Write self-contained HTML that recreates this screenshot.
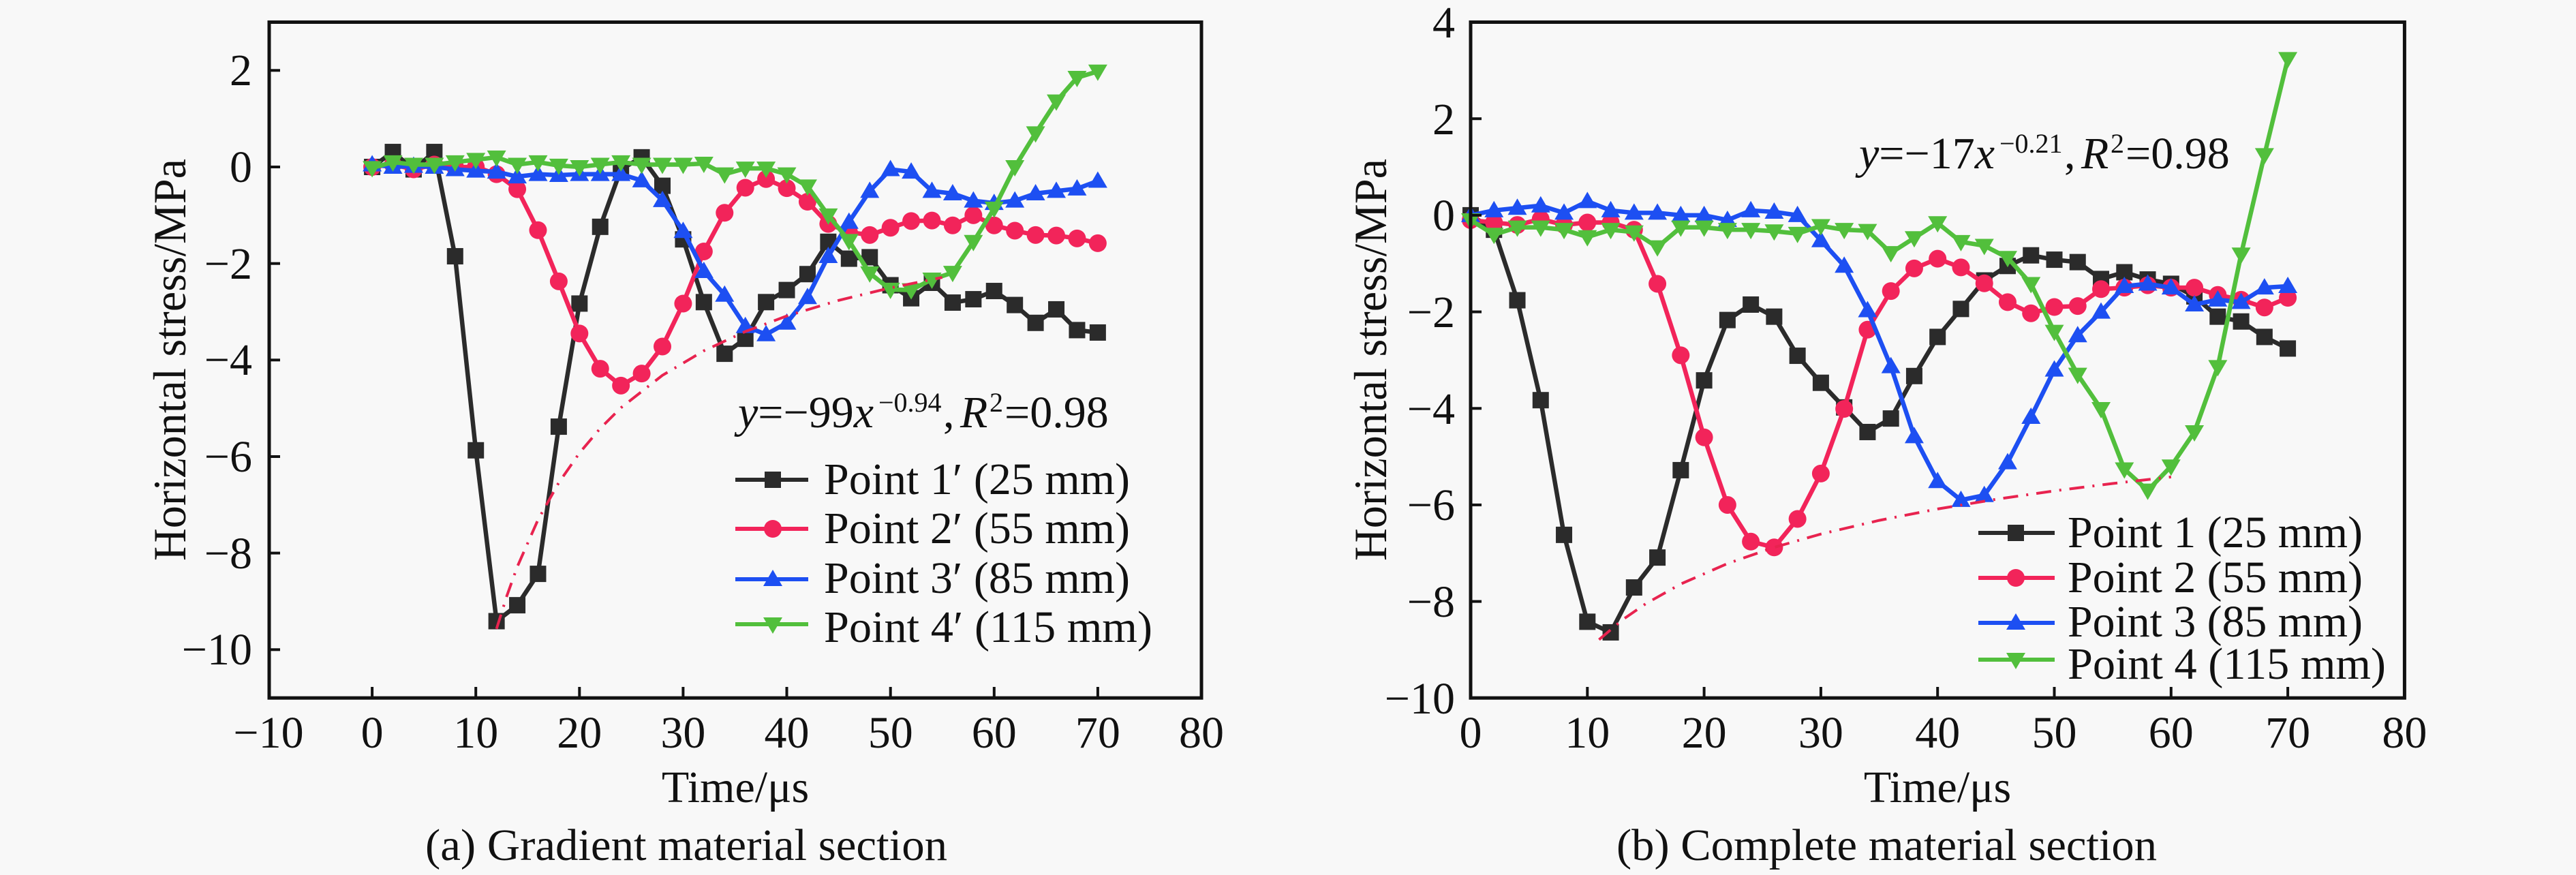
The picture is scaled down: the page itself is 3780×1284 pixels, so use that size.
<!DOCTYPE html>
<html>
<head>
<meta charset="utf-8">
<style>
  html,body{margin:0;padding:0;background:#f8f8f8;}
  svg{display:block;}
  text{fill:#111;font-family:"Liberation Serif","Times New Roman","DejaVu Serif",serif;}
</style>
</head>
<body>
<svg width="3780" height="1284" viewBox="0 0 3780 1284" xmlns="http://www.w3.org/2000/svg" font-family="Liberation Serif, serif">
<rect x="0" y="0" width="3780" height="1284" fill="#f8f8f8"/>
<defs>
  <marker id="mLsq" markerUnits="userSpaceOnUse" viewBox="-3 -3 6 6" markerWidth="6" markerHeight="6" refX="0" refY="0" orient="0">
    <rect x="-0.7889" y="-0.1694" width="1.5778" height="0.3388" fill="#2b2b2b"/>
  </marker>
  <marker id="mLci" markerUnits="userSpaceOnUse" viewBox="-3 -3 6 6" markerWidth="6" markerHeight="6" refX="0" refY="0" orient="0">
    <ellipse cx="0" cy="0" rx="0.8547" ry="0.1835" fill="#f2245a"/>
  </marker>
  <marker id="mLup" markerUnits="userSpaceOnUse" viewBox="-3 -3 6 6" markerWidth="6" markerHeight="6" refX="0" refY="0" orient="0">
    <polygon points="0,0.1977 -0.9204,-0.1412 0.9204,-0.1412" fill="#1d4ff2"/>
  </marker>
  <marker id="mLdn" markerUnits="userSpaceOnUse" viewBox="-3 -3 6 6" markerWidth="6" markerHeight="6" refX="0" refY="0" orient="0">
    <polygon points="0,-0.1977 -0.9204,0.1412 0.9204,0.1412" fill="#52bf3c"/>
  </marker>
  <marker id="mRsq" markerUnits="userSpaceOnUse" viewBox="-3 -3 6 6" markerWidth="6" markerHeight="6" refX="0" refY="0" orient="0">
    <rect x="-0.7005" y="-0.1694" width="1.401" height="0.3388" fill="#2b2b2b"/>
  </marker>
  <marker id="mRci" markerUnits="userSpaceOnUse" viewBox="-3 -3 6 6" markerWidth="6" markerHeight="6" refX="0" refY="0" orient="0">
    <ellipse cx="0" cy="0" rx="0.7589" ry="0.1835" fill="#f2245a"/>
  </marker>
  <marker id="mRup" markerUnits="userSpaceOnUse" viewBox="-3 -3 6 6" markerWidth="6" markerHeight="6" refX="0" refY="0" orient="0">
    <polygon points="0,0.1977 -0.8173,-0.1412 0.8173,-0.1412" fill="#1d4ff2"/>
  </marker>
  <marker id="mRdn" markerUnits="userSpaceOnUse" viewBox="-3 -3 6 6" markerWidth="6" markerHeight="6" refX="0" refY="0" orient="0">
    <polygon points="0,-0.1977 -0.8173,0.1412 0.8173,0.1412" fill="#52bf3c"/>
  </marker>
</defs>

<!-- ================= LEFT PANEL ================= -->
<g transform="matrix(15.211 0 0 -70.83 546.1 245)" fill="none" stroke-linejoin="round">
  <polyline vector-effect="non-scaling-stroke" stroke="#2b2b2b" stroke-width="6.5" marker-start="url(#mLsq)" marker-mid="url(#mLsq)" marker-end="url(#mLsq)"
    points="0,0 2,0.31 4,-0.05 6,0.31 8,-1.85 10,-5.87 12,-9.41 14,-9.08 16,-8.43 18,-5.38 20,-2.83 22,-1.24 24,-0.05 26,0.2 28,-0.39 30,-1.5 32,-2.8 34,-3.87 36,-3.56 38,-2.8 40,-2.55 42,-2.22 44,-1.55 46,-1.9 48,-1.87 50,-2.45 52,-2.72 54,-2.4 56,-2.81 58,-2.74 60,-2.57 62,-2.86 64,-3.23 66,-2.95 68,-3.38 70,-3.43"/>
  <polyline vector-effect="non-scaling-stroke" stroke="#f2245a" stroke-width="6.5" marker-start="url(#mLci)" marker-mid="url(#mLci)" marker-end="url(#mLci)"
    points="0,0 2,0.05 4,-0.05 6,0.05 8,0 10,0 12,-0.15 14,-0.46 16,-1.31 18,-2.37 20,-3.45 22,-4.18 24,-4.53 26,-4.28 28,-3.72 30,-2.83 32,-1.75 34,-0.95 36,-0.43 38,-0.25 40,-0.44 42,-0.72 44,-1.18 46,-1.35 48,-1.41 50,-1.26 52,-1.12 54,-1.11 56,-1.21 58,-1.0 60,-1.21 62,-1.32 64,-1.41 66,-1.42 68,-1.48 70,-1.58"/>
  <polyline vector-effect="non-scaling-stroke" stroke="#1d4ff2" stroke-width="6.5" marker-start="url(#mLup)" marker-mid="url(#mLup)" marker-end="url(#mLup)"
    points="0,0.05 2,0 4,0.02 6,0 8,-0.05 10,-0.08 12,-0.1 14,-0.2 16,-0.15 18,-0.17 20,-0.15 22,-0.15 24,-0.15 26,-0.28 28,-0.69 30,-1.33 32,-2.16 34,-2.65 36,-3.3 38,-3.47 40,-3.23 42,-2.7 44,-1.85 46,-1.14 48,-0.5 50,-0.05 52,-0.1 54,-0.5 56,-0.55 58,-0.7 60,-0.75 62,-0.7 64,-0.55 66,-0.5 68,-0.45 70,-0.29"/>
  <polyline vector-effect="non-scaling-stroke" stroke="#52bf3c" stroke-width="6.5" marker-start="url(#mLdn)" marker-mid="url(#mLdn)" marker-end="url(#mLdn)"
    points="0,-0.02 2,0.1 4,0.05 6,0.05 8,0.1 10,0.15 12,0.2 14,0.05 16,0.1 18,0.03 20,0 22,0.05 24,0.1 26,0.05 28,0.05 30,0.05 32,0.07 34,-0.15 36,-0.03 38,-0.03 40,-0.15 42,-0.4 44,-1.0 46,-1.53 48,-2.2 50,-2.54 52,-2.55 54,-2.33 56,-2.19 58,-1.55 60,-0.86 62,0 64,0.7 66,1.36 68,1.85 70,1.98"/>
</g>
<polyline fill="none" stroke="#e8234f" stroke-width="4" stroke-dasharray="22 12 3 12"
  points="728.6,922.8 743.8,874.2 759,831.8 789.5,762.7 819.9,708.4 850.3,664.7 880.7,628.7 911.1,598.4 972,550.8 1032.8,514.8 1093.7,486.5 1154.5,463.7 1230.6,440.8 1306.6,422.4 1382.7,407.1"/>

<rect x="395" y="32.5" width="1368" height="991.7" fill="none" stroke="#111" stroke-width="5"/>
<g stroke="#111" stroke-width="4">
  <line x1="395" y1="103.3" x2="411" y2="103.3"/>
  <line x1="395" y1="245" x2="411" y2="245"/>
  <line x1="395" y1="386.7" x2="411" y2="386.7"/>
  <line x1="395" y1="528.3" x2="411" y2="528.3"/>
  <line x1="395" y1="670" x2="411" y2="670"/>
  <line x1="395" y1="811.6" x2="411" y2="811.6"/>
  <line x1="395" y1="953.3" x2="411" y2="953.3"/>
  <line x1="546.1" y1="1024" x2="546.1" y2="1008"/>
  <line x1="698.2" y1="1024" x2="698.2" y2="1008"/>
  <line x1="850.3" y1="1024" x2="850.3" y2="1008"/>
  <line x1="1002.4" y1="1024" x2="1002.4" y2="1008"/>
  <line x1="1154.5" y1="1024" x2="1154.5" y2="1008"/>
  <line x1="1306.7" y1="1024" x2="1306.7" y2="1008"/>
  <line x1="1458.8" y1="1024" x2="1458.8" y2="1008"/>
  <line x1="1610.9" y1="1024" x2="1610.9" y2="1008"/>
</g>
<g font-size="66" text-anchor="end">
  <text x="370" y="125">2</text>
  <text x="370" y="267">0</text>
  <text x="370" y="409">−2</text>
  <text x="370" y="550">−4</text>
  <text x="370" y="692">−6</text>
  <text x="370" y="834">−8</text>
  <text x="370" y="975">−10</text>
</g>
<g font-size="66" text-anchor="middle">
  <text x="394" y="1097">−10</text>
  <text x="546.1" y="1097">0</text>
  <text x="698.2" y="1097">10</text>
  <text x="850.3" y="1097">20</text>
  <text x="1002.4" y="1097">30</text>
  <text x="1154.5" y="1097">40</text>
  <text x="1306.7" y="1097">50</text>
  <text x="1458.8" y="1097">60</text>
  <text x="1610.9" y="1097">70</text>
  <text x="1763" y="1097">80</text>
  <text x="1079" y="1177">Time/μs</text>
</g>
<text transform="translate(272,528) rotate(-90)" font-size="68" text-anchor="middle" textLength="590" lengthAdjust="spacingAndGlyphs">Horizontal stress/MPa</text>
<text x="624" y="1262" font-size="66" textLength="766" lengthAdjust="spacingAndGlyphs">(a) Gradient material section</text>

<text x="1083" y="627" font-size="66"><tspan font-style="italic">y</tspan>=−99<tspan font-style="italic">x</tspan></text>
<text x="1289" y="604" font-size="40">−0.94</text>
<text x="1384" y="627" font-size="66">,</text>
<text x="1409" y="627" font-size="66" font-style="italic">R</text>
<text x="1452" y="604" font-size="40">2</text>
<text x="1474" y="627" font-size="66">=0.98</text>

<g stroke-width="6">
  <line x1="1079" y1="704" x2="1186" y2="704" stroke="#2b2b2b"/>
  <line x1="1079" y1="776" x2="1186" y2="776" stroke="#f2245a"/>
  <line x1="1079" y1="850" x2="1186" y2="850" stroke="#1d4ff2"/>
  <line x1="1079" y1="916" x2="1186" y2="916" stroke="#52bf3c"/>
</g>
<rect x="1122" y="692" width="24" height="24" fill="#2b2b2b"/>
<circle cx="1134" cy="776" r="13" fill="#f2245a"/>
<polygon points="1134,836 1120,860 1148,860" fill="#1d4ff2"/>
<polygon points="1134,930 1120,906 1148,906" fill="#52bf3c"/>
<g font-size="66">
  <text x="1209" y="725" textLength="449" lengthAdjust="spacingAndGlyphs">Point 1′ (25 mm)</text>
  <text x="1209" y="797" textLength="449" lengthAdjust="spacingAndGlyphs">Point 2′ (55 mm)</text>
  <text x="1209" y="870" textLength="449" lengthAdjust="spacingAndGlyphs">Point 3′ (85 mm)</text>
  <text x="1209" y="942" textLength="482" lengthAdjust="spacingAndGlyphs">Point 4′ (115 mm)</text>
</g>

<!-- ================= RIGHT PANEL ================= -->
<g transform="matrix(17.13 0 0 -70.84 2158 315.9)" fill="none" stroke-linejoin="round">
  <polyline vector-effect="non-scaling-stroke" stroke="#2b2b2b" stroke-width="6.5" marker-start="url(#mRsq)" marker-mid="url(#mRsq)" marker-end="url(#mRsq)"
    points="0,0 2,-0.3 4,-1.76 6,-3.83 8,-6.62 10,-8.42 12,-8.64 14,-7.71 16,-7.09 18,-5.28 20,-3.42 22,-2.17 24,-1.85 26,-2.1 28,-2.91 30,-3.47 32,-3.98 34,-4.49 36,-4.21 38,-3.33 40,-2.52 42,-1.94 44,-1.35 46,-1.05 48,-0.83 50,-0.92 52,-0.97 54,-1.32 56,-1.18 58,-1.33 60,-1.42 62,-1.68 64,-2.1 66,-2.2 68,-2.52 70,-2.76"/>
  <polyline vector-effect="non-scaling-stroke" stroke="#f2245a" stroke-width="6.5" marker-start="url(#mRci)" marker-mid="url(#mRci)" marker-end="url(#mRci)"
    points="0,-0.1 2,-0.15 4,-0.2 6,-0.08 8,-0.2 10,-0.15 12,-0.15 14,-0.3 16,-1.42 18,-2.9 20,-4.6 22,-6.0 24,-6.76 26,-6.88 28,-6.29 30,-5.35 32,-4.01 34,-2.37 36,-1.57 38,-1.1 40,-0.9 42,-1.08 44,-1.41 46,-1.8 48,-2.03 50,-1.9 52,-1.88 54,-1.53 56,-1.5 58,-1.45 60,-1.5 62,-1.5 64,-1.65 66,-1.75 68,-1.91 70,-1.71"/>
  <polyline vector-effect="non-scaling-stroke" stroke="#1d4ff2" stroke-width="6.5" marker-start="url(#mRup)" marker-mid="url(#mRup)" marker-end="url(#mRup)"
    points="0,0 2,0.1 4,0.15 6,0.2 8,0.05 10,0.29 12,0.1 14,0.05 16,0.05 18,0 20,0 22,-0.1 24,0.1 26,0.07 28,0 30,-0.52 32,-1.05 34,-1.97 36,-3.13 38,-4.58 40,-5.51 42,-5.9 44,-5.8 46,-5.12 48,-4.18 50,-3.2 52,-2.49 54,-2.0 56,-1.47 58,-1.42 60,-1.5 62,-1.85 64,-1.75 66,-1.8 68,-1.5 70,-1.47"/>
  <polyline vector-effect="non-scaling-stroke" stroke="#52bf3c" stroke-width="6.5" marker-start="url(#mRdn)" marker-mid="url(#mRdn)" marker-end="url(#mRdn)"
    points="0,-0.1 2,-0.4 4,-0.25 6,-0.25 8,-0.3 10,-0.45 12,-0.3 14,-0.35 16,-0.66 18,-0.25 20,-0.25 22,-0.3 24,-0.3 26,-0.33 28,-0.38 30,-0.22 32,-0.3 34,-0.32 36,-0.78 38,-0.47 40,-0.16 42,-0.55 44,-0.63 46,-0.88 48,-1.42 50,-2.41 52,-3.3 54,-4.01 56,-5.26 58,-5.7 60,-5.2 62,-4.49 64,-3.14 66,-0.81 68,1.25 70,3.24"/>
</g>
<polyline fill="none" stroke="#e8234f" stroke-width="4" stroke-dasharray="22 12 3 12"
  points="2346.4,938.6 2380.7,909.6 2415,885.9 2466.3,857 2534.9,827 2603.4,803.2 2671.9,783.7 2757.6,763.6 2843.2,746.9 2928.9,732.7 3014.5,720.3 3100.2,709.5 3185.8,699.9"/>

<rect x="2158" y="32.5" width="1370.4" height="991.7" fill="none" stroke="#111" stroke-width="5"/>
<g stroke="#111" stroke-width="4">
  <line x1="2158" y1="174.2" x2="2174" y2="174.2"/>
  <line x1="2158" y1="315.9" x2="2174" y2="315.9"/>
  <line x1="2158" y1="457.6" x2="2174" y2="457.6"/>
  <line x1="2158" y1="599.3" x2="2174" y2="599.3"/>
  <line x1="2158" y1="740.9" x2="2174" y2="740.9"/>
  <line x1="2158" y1="882.6" x2="2174" y2="882.6"/>
  <line x1="2329.3" y1="1024" x2="2329.3" y2="1008"/>
  <line x1="2500.6" y1="1024" x2="2500.6" y2="1008"/>
  <line x1="2671.9" y1="1024" x2="2671.9" y2="1008"/>
  <line x1="2843.2" y1="1024" x2="2843.2" y2="1008"/>
  <line x1="3014.5" y1="1024" x2="3014.5" y2="1008"/>
  <line x1="3185.8" y1="1024" x2="3185.8" y2="1008"/>
  <line x1="3357.1" y1="1024" x2="3357.1" y2="1008"/>
</g>
<g font-size="66" text-anchor="end">
  <text x="2135" y="55">4</text>
  <text x="2135" y="197">2</text>
  <text x="2135" y="338">0</text>
  <text x="2135" y="480">−2</text>
  <text x="2135" y="622">−4</text>
  <text x="2135" y="763">−6</text>
  <text x="2135" y="905">−8</text>
  <text x="2135" y="1047">−10</text>
</g>
<g font-size="66" text-anchor="middle">
  <text x="2158" y="1097">0</text>
  <text x="2329.3" y="1097">10</text>
  <text x="2500.6" y="1097">20</text>
  <text x="2671.9" y="1097">30</text>
  <text x="2843.2" y="1097">40</text>
  <text x="3014.5" y="1097">50</text>
  <text x="3185.8" y="1097">60</text>
  <text x="3357.1" y="1097">70</text>
  <text x="3528.4" y="1097">80</text>
  <text x="2843" y="1177">Time/μs</text>
</g>
<text transform="translate(2034,528) rotate(-90)" font-size="68" text-anchor="middle" textLength="590" lengthAdjust="spacingAndGlyphs">Horizontal stress/MPa</text>
<text x="2372" y="1262" font-size="66" textLength="793" lengthAdjust="spacingAndGlyphs">(b) Complete material section</text>

<text x="2728" y="247" font-size="66"><tspan font-style="italic">y</tspan>=−17<tspan font-style="italic">x</tspan></text>
<text x="2934" y="224" font-size="40">−0.21</text>
<text x="3029" y="247" font-size="66">,</text>
<text x="3054" y="247" font-size="66" font-style="italic">R</text>
<text x="3097" y="224" font-size="40">2</text>
<text x="3119" y="247" font-size="66">=0.98</text>

<g stroke-width="6">
  <line x1="2903" y1="782" x2="3015" y2="782" stroke="#2b2b2b"/>
  <line x1="2903" y1="848" x2="3015" y2="848" stroke="#f2245a"/>
  <line x1="2903" y1="914" x2="3015" y2="914" stroke="#1d4ff2"/>
  <line x1="2903" y1="968" x2="3015" y2="968" stroke="#52bf3c"/>
</g>
<rect x="2946" y="770" width="24" height="24" fill="#2b2b2b"/>
<circle cx="2958" cy="848" r="13" fill="#f2245a"/>
<polygon points="2958,900 2944,924 2972,924" fill="#1d4ff2"/>
<polygon points="2958,982 2944,958 2972,958" fill="#52bf3c"/>
<g font-size="66">
  <text x="3034" y="803" textLength="433" lengthAdjust="spacingAndGlyphs">Point 1 (25 mm)</text>
  <text x="3034" y="869" textLength="433" lengthAdjust="spacingAndGlyphs">Point 2 (55 mm)</text>
  <text x="3034" y="934" textLength="433" lengthAdjust="spacingAndGlyphs">Point 3 (85 mm)</text>
  <text x="3034" y="996" textLength="467" lengthAdjust="spacingAndGlyphs">Point 4 (115 mm)</text>
</g>
</svg>
</body>
</html>
